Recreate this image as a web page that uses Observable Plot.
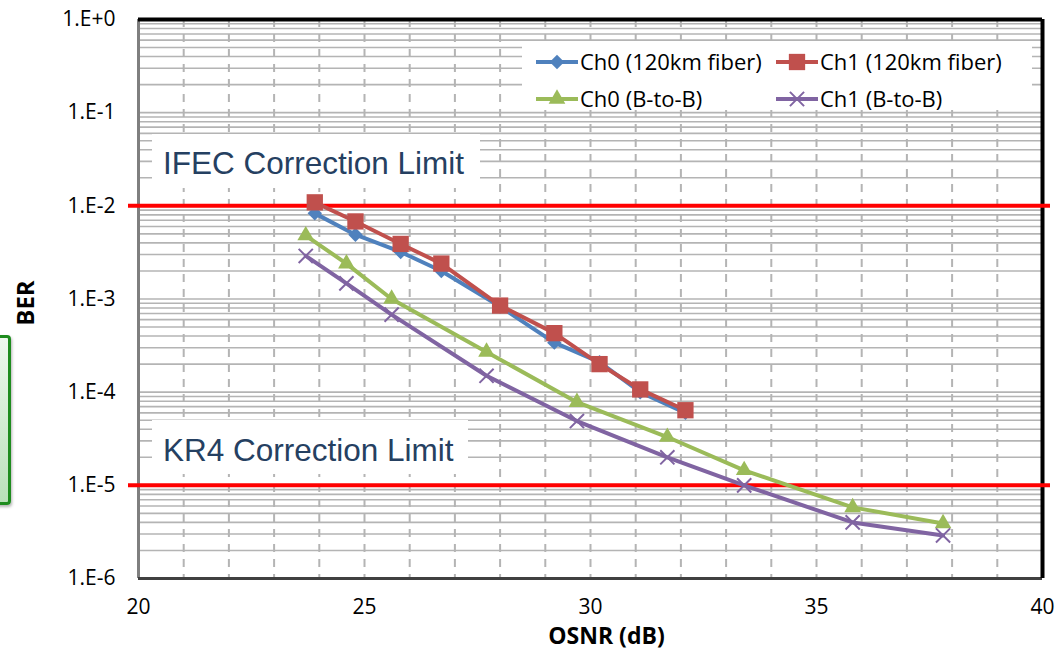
<!DOCTYPE html>
<html><head><meta charset="utf-8">
<script src="https://cdn.jsdelivr.net/npm/d3@7"></script>
<script src="https://cdn.jsdelivr.net/npm/@observablehq/plot@0.6"></script>
<style>
body{margin:0;background:#fff;}
#wrap{position:relative;width:1056px;height:652px;overflow:hidden;background:#fff;}
#wrap > svg{position:absolute;left:0;top:0;}
#greenbox{position:absolute;left:-40px;top:335px;width:45px;height:164px;border:3px solid #1e8c1e;border-radius:4px;background:linear-gradient(#eef8ee,#b9e0b9);box-shadow:1px 2px 3px rgba(0,0,0,0.3);}
</style></head><body>
<div id="wrap"></div>
<script>
// ---- data ----
const seriesNames = ["Ch0 (120km fiber)", "Ch1 (120km fiber)", "Ch0 (B-to-B)", "Ch1 (B-to-B)"];
const seriesColors = ["#4F81BD", "#C0504D", "#9BBB59", "#8064A2"];
const seriesSymbols = ["diamond2", "square", "triangle", "times"];

const osnrCh0Fiber = [23.9, 24.8, 25.8, 26.7, 28.0, 29.2, 30.2, 31.1, 32.1];
const berCh0Fiber  = [8.3e-3, 4.9e-3, 3.2e-3, 2.0e-3, 8.3e-4, 3.4e-4, 2.1e-4, 1.0e-4, 6.0e-5];
const osnrCh1Fiber = [23.9, 24.8, 25.8, 26.7, 28.0, 29.2, 30.2, 31.1, 32.1];
const berCh1Fiber  = [1.09e-2, 6.8e-3, 3.9e-3, 2.4e-3, 8.5e-4, 4.3e-4, 2.0e-4, 1.07e-4, 6.4e-5];
const osnrCh0B2B   = [23.7, 24.6, 25.6, 27.7, 29.7, 31.7, 33.4, 35.8, 37.8];
const berCh0B2B    = [4.8e-3, 2.4e-3, 1.0e-3, 2.7e-4, 7.8e-5, 3.3e-5, 1.45e-5, 5.8e-6, 3.9e-6];
const osnrCh1B2B   = [23.7, 24.6, 25.6, 27.7, 29.7, 31.7, 33.4, 35.8, 37.8];
const berCh1B2B    = [2.9e-3, 1.47e-3, 6.8e-4, 1.5e-4, 4.9e-5, 2.0e-5, 1.0e-5, 4.0e-6, 2.9e-6];

const limitValues = [1e-2, 1e-5];
const limitLabels = ["IFEC Correction Limit", "KR4 Correction Limit"];

const xTicks = [20, 25, 30, 35, 40];
const xGrid = [21,22,23,24,25,26,27,28,29,30,31,32,33,34,35,36,37,38,39];
const yTicks = [1, 1e-1, 1e-2, 1e-3, 1e-4, 1e-5, 1e-6];
const minorMult = [2,3,4,5,6,7,8,9];
const yMinor = yTicks.slice(1).flatMap(d => minorMult.map(m => d * m));

const xLabel = "OSNR (dB)";
const yLabel = "BER";

// ---- build ----
const FONT = "Open Sans";
const allX = [osnrCh0Fiber, osnrCh1Fiber, osnrCh0B2B, osnrCh1B2B];
const allY = [berCh0Fiber, berCh1Fiber, berCh0B2B, berCh1B2B];
const radii = {diamond2: 6.5, square: 9.2, triangle: 6.2, times: 6.5};

const seriesMarks = [];
allX.forEach((xs, s) => {
  const rows = xs.map((x, i) => ({x, y: allY[s][i]}));
  seriesMarks.push(Plot.line(rows, {x: "x", y: "y", stroke: seriesColors[s], strokeWidth: 4}));
  const sym = seriesSymbols[s];
  if (sym === "times") {
    seriesMarks.push(Plot.dot(rows, {x: "x", y: "y", symbol: sym, r: radii[sym], stroke: seriesColors[s], strokeWidth: 2}));
  } else {
    seriesMarks.push(Plot.dot(rows, {x: "x", y: "y", symbol: sym, r: radii[sym], fill: seriesColors[s], stroke: "none"}));
  }
});

const fmt = d => { const e = Math.round(Math.log10(d)); return "1.E" + (e >= 0 ? "+" + e : e); };

const chart = Plot.plot({
  width: 1056, height: 652,
  marginLeft: 138, marginRight: 14, marginTop: 19, marginBottom: 74,
  style: {fontFamily: FONT, fontSize: "21px", color: "#000", background: "transparent"},
  x: {domain: [20, 40]},
  y: {type: "log", domain: [1e-6, 1]},
  marks: [
    Plot.ruleY(yMinor, {stroke: "#b4b4b4", strokeWidth: 1.6}),
    Plot.ruleY(yTicks, {stroke: "#b4b4b4", strokeWidth: 1.6}),
    Plot.ruleX(xGrid, {stroke: "#b4b4b4", strokeWidth: 2, strokeDasharray: "8,7"}),
    Plot.ruleX([20], {stroke: "#7f7f7f", strokeWidth: 3}),
    Plot.ruleY([1e-6], {stroke: "#404040", strokeWidth: 3}),
    Plot.ruleY([1], {stroke: "#000", strokeWidth: 4}),
    Plot.ruleX([40], {stroke: "#000", strokeWidth: 4}),
    Plot.ruleY(limitValues, {stroke: "#ff0000", strokeWidth: 4, insetLeft: -10, insetRight: -8}),
    ...seriesMarks,
    Plot.axisX({ticks: xTicks, tickSize: 0, tickPadding: 21, fontSize: 21, label: null}),
    Plot.axisY({ticks: yTicks, tickSize: 0, tickPadding: 23, fontSize: 21, tickFormat: fmt, label: null}),
    Plot.text([xLabel], {text: d => d, frameAnchor: "bottom", textAnchor: "middle", lineAnchor: "middle", dx: 16, dy: 58, fontWeight: "bold", fontSize: 23}),
    Plot.text([yLabel], {text: d => d, frameAnchor: "left", textAnchor: "middle", lineAnchor: "middle", rotate: -90, dx: -112, dy: 4, fontWeight: "bold", fontSize: 24})
  ]
});

const wrap = document.getElementById("wrap");
wrap.appendChild(chart);

const gb = document.createElement("div");
gb.id = "greenbox";
wrap.appendChild(gb);

// overlay: annotation boxes + legend
const ov = d3.select(wrap).append("svg")
  .attr("width", 1056).attr("height", 652)
  .style("position", "absolute").style("left", 0).style("top", 0)
  .style("pointer-events", "none");

const annBoxes = [
  {x: 152, y: 134, w: 328, h: 54, tx: 163, ty: 174},
  {x: 152, y: 420, w: 316, h: 54, tx: 163, ty: 461}
];
annBoxes.forEach((b, i) => {
  ov.append("rect").attr("x", b.x).attr("y", b.y).attr("width", b.w).attr("height", b.h).attr("fill", "#fff");
  ov.append("text").attr("x", b.tx).attr("y", b.ty)
    .attr("font-family", "Liberation Sans, Arial, sans-serif").attr("font-size", 31.5)
    .attr("fill", "#254061").text(limitLabels[i]);
});

// legend
ov.append("rect").attr("x", 522).attr("y", 41).attr("width", 510).attr("height", 69).attr("fill", "#fff");
const legPos = [[536, 62], [776, 62], [536, 99], [776, 99]];
const symMap = {diamond2: d3.symbolDiamond2, square: d3.symbolSquare, triangle: d3.symbolTriangle, times: d3.symbolTimes};
seriesNames.forEach((name, s) => {
  const [lx, ly] = legPos[s];
  ov.append("line").attr("x1", lx).attr("x2", lx + 42).attr("y1", ly).attr("y2", ly)
    .attr("stroke", seriesColors[s]).attr("stroke-width", 4);
  const sym = seriesSymbols[s];
  const r = radii[sym];
  const p = ov.append("path").attr("d", d3.symbol(symMap[sym], Math.PI * r * r)())
    .attr("transform", `translate(${lx + 21},${ly})`);
  if (sym === "times") p.attr("fill", "none").attr("stroke", seriesColors[s]).attr("stroke-width", 2);
  else p.attr("fill", seriesColors[s]);
  ov.append("text").attr("x", lx + 44).attr("y", ly).attr("dy", "0.36em")
    .attr("font-family", FONT).attr("font-size", 22).attr("fill", "#000").text(name);
});
</script>
</body></html>
